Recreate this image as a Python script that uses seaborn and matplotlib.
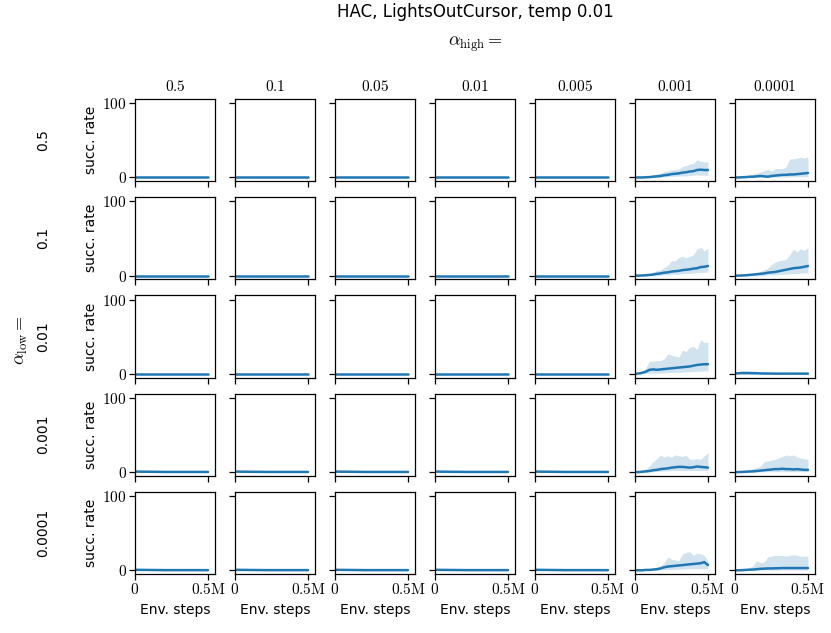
import numpy as np
import matplotlib
matplotlib.use("Agg")
import matplotlib.pyplot as plt
import seaborn as sns

# Env. steps at each logged point (every 25k steps)
steps = [0, 25000, 50000, 75000, 100000, 125000, 150000, 175000, 200000, 225000, 250000,
         275000, 300000, 325000, 350000, 375000, 400000, 425000, 450000, 475000, 500000]

alpha_high = ["0.5", "0.1", "0.05", "0.01", "0.005", "0.001", "0.0001"]
alpha_low = ["0.5", "0.1", "0.01", "0.001", "0.0001"]

# flat panels (no success)
zero_mean = [0] * 21
zero_lo = [0] * 21
zero_hi = [0] * 21
# flat panels of the last two rows: tiny bump at the start
small_mean = [0.6, 0.6, 0.5, 0.5, 0.4, 0.4, 0.3, 0.3, 0.2, 0.2, 0.2, 0.2, 0.2, 0.2, 0.2, 0.2, 0.2, 0.2, 0.2, 0.2, 0.2]
small_lo = [0] * 21
small_hi = [1.5, 1.8, 1.8, 1.5, 1.5, 1.2, 1.0, 1.0, 0.8, 0.6, 0.5, 0.5, 0.5, 0.5, 0.5, 0.5, 0.5, 0.5, 0.5, 0.5, 0.5]

# low 0.5
r0c5_mean = [0, 0, 0, 0.3, 0.5, 1, 1.5, 2, 3, 3.5, 4.5, 5, 5.5, 6.5, 7, 8, 8.5, 10, 10.5, 10, 10]
r0c5_lo = [0, 0, 0, 0, 0, 0, 0, 0.5, 1, 1, 1.5, 1.5, 2, 2, 2, 2.5, 3, 3.5, 3, 3, 3]
r0c5_hi = [0, 0.5, 1, 1.5, 2.5, 3.5, 4.5, 6, 8, 9, 10, 11, 11, 15, 16, 18, 19, 24, 22, 21, 21]
r0c6_mean = [0, 0, 0.3, 0.5, 1, 1, 1.5, 2, 1.5, 1, 2, 2.5, 3, 3.5, 3.5, 4, 4, 4.5, 5, 5.5, 6]
r0c6_lo = [0, 0, 0, 0, 0, 0, 0, 0.2, 0.2, 0.2, 0.3, 0.5, 0.5, 0.5, 0.5, 0.8, 0.8, 1, 1, 1, 1]
r0c6_hi = [0, 0.5, 1, 2, 3, 5, 6, 7, 9, 11, 8, 12, 12, 12, 14, 25, 25, 26, 27, 26, 28]

# low 0.1
r1c5_mean = [0, 0, 0.3, 0.5, 1, 1.5, 2.5, 3, 4, 4.5, 5.5, 6, 6.5, 7.5, 8, 8.5, 9.5, 10, 11.5, 12, 13]
r1c5_lo = [0, 0, 0, 0, 0, 0, 0, 0.5, 1, 1, 1.5, 2, 2, 2.5, 3, 3, 3.5, 4, 4, 4.5, 5]
r1c5_hi = [0, 0.5, 1, 2, 3.5, 5, 7, 8, 11, 14, 20, 20, 24, 26, 24, 26, 28, 36, 38, 33, 37]
r1c6_mean = [0, 0, 0.3, 0.5, 1, 1.5, 2, 2.5, 3, 4, 4.5, 5, 6, 7, 8, 9, 10, 10.5, 11, 12, 13]
r1c6_lo = [0, 0, 0, 0, 0, 0, 0, 0, 0.5, 1, 1, 1, 1.5, 2, 2, 2.5, 3, 3, 3.5, 3.5, 4]
r1c6_hi = [0, 0.5, 1, 1.5, 2, 3, 4, 6, 8, 10, 15, 18, 20, 21, 22, 28, 36, 32, 36, 34, 38]

# low 0.01
r2c5_mean = [0, 0.5, 1.5, 3, 5.5, 6, 5.5, 6, 6.5, 7, 7.5, 8, 8.5, 9, 9.5, 10, 11, 12, 12.5, 13, 13]
r2c5_lo = [0, 0, 0, 0.5, 1, 1, 1, 1, 1.5, 1.5, 2, 2, 2, 2.5, 2.5, 3, 3, 3.5, 3.5, 4, 4]
r2c5_hi = [0, 1, 3, 8, 17, 17, 18, 18, 20, 27, 25, 24, 22, 32, 30, 36, 37, 33, 46, 42, 43]
r2c6_mean = [0.5, 0.8, 1, 1, 1, 0.8, 0.8, 0.6, 0.5, 0.5, 0.4, 0.3, 0.3, 0.3, 0.3, 0.3, 0.3, 0.3, 0.3, 0.3, 0.3]
r2c6_lo = [0] * 21
r2c6_hi = [1, 3, 4.5, 4.5, 4, 4, 3.5, 3, 2.5, 2, 1.5, 1.5, 1, 1, 1, 1, 1, 1, 1, 1, 1]

# low 0.001
r3c5_mean = [0, 0, 0.5, 1, 1.5, 2.5, 3, 4, 4.5, 5, 6, 6.5, 7, 7, 6.5, 6, 6.5, 7.5, 7, 6.5, 6]
r3c5_lo = [0, 0, 0, 0, 0, 0.5, 1, 1, 1.5, 1.5, 2, 2, 2, 2, 2, 2, 2, 2, 2, 2, 2]
r3c5_hi = [0, 1, 2, 4, 8, 14, 18, 23, 20, 22, 20, 23, 22, 21, 23, 17, 17, 18, 17, 22, 26]
r3c6_mean = [0, 0, 0.2, 0.5, 0.8, 1, 1.5, 2, 2.5, 3, 3.5, 4, 4, 4.5, 4, 4, 3.5, 4, 3.5, 3, 3]
r3c6_lo = [0, 0, 0, 0, 0, 0, 0, 0.2, 0.3, 0.5, 0.5, 0.5, 0.5, 0.5, 0.5, 0.5, 0.5, 0.5, 0.5, 0.5, 0.5]
r3c6_hi = [0, 0.5, 1, 2, 3, 5, 6, 8, 14, 15, 16, 17, 19, 21, 23, 22, 23, 20, 19, 18, 17]

# low 0.0001
r4c5_mean = [0, 0, 0, 0.5, 0.5, 1, 1.5, 2.5, 4, 5, 5.5, 6, 6.5, 7, 7.5, 8, 8.5, 9, 9.5, 11, 7]
r4c5_lo = [0, 0, 0, 0, 0, 0, 0, 0.5, 1, 1, 1, 1.5, 1.5, 1.5, 2, 2, 2, 2, 2, 2, 1.5]
r4c5_hi = [0, 0.5, 1, 1.5, 2, 3, 4, 6, 10, 18, 15, 14, 13, 22, 24, 25, 20, 23, 22, 20, 12]
r4c6_mean = [0, 0, 0.2, 0.5, 0.8, 1, 1.5, 2, 2.2, 2.5, 2.5, 2.7, 2.8, 3, 3, 3, 3, 3, 3, 3, 3]
r4c6_lo = [0, 0, 0, 0, 0, 0, 0, 0, 0.2, 0.3, 0.3, 0.3, 0.5, 0.5, 0.5, 0.5, 0.5, 0.5, 0.5, 0.5, 0.5]
r4c6_hi = [0, 0.5, 1, 2, 4, 6, 13, 10, 11, 18, 19, 20, 20, 20, 19, 20, 21, 20, 19, 19, 19]

active = {
    (0, 5): (r0c5_mean, r0c5_lo, r0c5_hi), (0, 6): (r0c6_mean, r0c6_lo, r0c6_hi),
    (1, 5): (r1c5_mean, r1c5_lo, r1c5_hi), (1, 6): (r1c6_mean, r1c6_lo, r1c6_hi),
    (2, 5): (r2c5_mean, r2c5_lo, r2c5_hi), (2, 6): (r2c6_mean, r2c6_lo, r2c6_hi),
    (3, 5): (r3c5_mean, r3c5_lo, r3c5_hi), (3, 6): (r3c6_mean, r3c6_lo, r3c6_hi),
    (4, 5): (r4c5_mean, r4c5_lo, r4c5_hi), (4, 6): (r4c6_mean, r4c6_lo, r4c6_hi),
}

sns.set_style("ticks", {"axes.edgecolor": "black", "text.color": "black",
                        "axes.labelcolor": "black", "xtick.color": "black",
                        "ytick.color": "black"})
plt.rcParams["font.family"] = ["DejaVu Sans"]
plt.rcParams["mathtext.fontset"] = "cm"

fig, axes = plt.subplots(5, 7, figsize=(8.31, 6.33), dpi=100, sharex=True, sharey=True)
fig.subplots_adjust(left=0.1625, right=0.9807, top=0.8436, bottom=0.0932,
                    wspace=0.25, hspace=0.195)

blue = sns.color_palette("tab10")[0]

for r in range(5):
    for c in range(7):
        ax = axes[r, c]
        if (r, c) in active:
            mean, lo, hi = active[(r, c)]
        elif r >= 3:
            mean, lo, hi = small_mean, small_lo, small_hi
        else:
            mean, lo, hi = zero_mean, zero_lo, zero_hi
        ax.fill_between(steps, lo, hi, color=blue, alpha=0.2, lw=0)
        sns.lineplot(x=steps, y=mean, ax=ax, color=blue, lw=1.8)
        ax.set_xlim(0, 548000)
        ax.set_ylim(-5, 105.5)
        ax.set_xticks([0, 500000], labels=[r"$0$", r"$0.5\mathrm{M}$"], fontsize=11)
        ax.set_yticks([0, 100], labels=[r"$0$", r"$100$"], fontsize=11)
        ax.tick_params(length=4, width=0.9, pad=2)
        for sp in ax.spines.values():
            sp.set_linewidth(0.9)
        ax.set_xlabel("Env. steps" if r == 4 else "", fontsize=10)
        ax.set_ylabel("succ. rate" if c == 0 else "", fontsize=10, labelpad=3)
        if r == 0:
            ax.set_title(r"$%s$" % alpha_high[c], fontsize=11, pad=6)

# row labels
for r in range(5):
    pos = axes[r, 0].get_position()
    fig.text(43 / 831, (pos.y0 + pos.y1) / 2, alpha_low[r], rotation=90,
             ha="center", va="center", fontsize=10)

fig.text(475 / 831, 1 - 12 / 633, "HAC, LightsOutCursor, temp 0.01",
         ha="center", va="center", fontsize=12)
fig.text(475 / 831, 1 - 44 / 633, r"$\alpha_\mathrm{high} =$",
         ha="center", va="center", fontsize=13)
fig.text(21 / 831, 1 - 340 / 633, r"$\alpha_\mathrm{low} =$", rotation=90,
         ha="center", va="center", fontsize=13)

fig.savefig("out.png", dpi=100)
